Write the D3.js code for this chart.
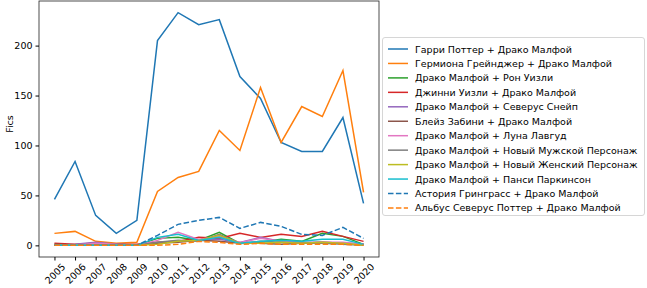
<!DOCTYPE html>
<html>
<head>
<meta charset="utf-8">
<script src="https://cdn.jsdelivr.net/npm/d3@7"></script>
<style>
body { margin: 0; background: #fff; }
text { font-family: "DejaVu Sans", sans-serif; fill: #000; }
</style>
</head>
<body>
<div id="chart"></div>
<script>
// years on the x axis
var years = [2005, 2006, 2007, 2008, 2009, 2010, 2011, 2012, 2013, 2014, 2015, 2016, 2017, 2018, 2019, 2020];

// pairing names (legend order)
var pairs = [
	"Гарри Поттер + Драко Малфой",
	"Гермиона Грейнджер + Драко Малфой",
	"Драко Малфой + Рон Уизли",
	"Джинни Уизли + Драко Малфой",
	"Драко Малфой + Северус Снейп",
	"Блейз Забини + Драко Малфой",
	"Драко Малфой + Луна Лавгуд",
	"Драко Малфой + Новый Мужской Персонаж",
	"Драко Малфой + Новый Женский Персонаж",
	"Драко Малфой + Панси Паркинсон",
	"Астория Гринграсс + Драко Малфой",
	"Альбус Северус Поттер + Драко Малфой"
];

// fics per year, one array per pairing
var harry    = [46, 84, 30, 12, 25, 205, 233, 221, 226, 169, 147, 103, 94, 94, 128, 42];
var hermione = [12, 14, 4, 2, 3, 54, 68, 74, 115, 95, 158, 103, 139, 129, 175, 53];
var ron      = [0, 0, 1, 1, 0, 7, 8, 5, 13, 2, 3, 6, 4, 12, 9, 1];
var ginny    = [2, 1, 2, 1, 1, 3, 4, 8, 7, 12, 8, 11, 9, 14, 9, 4];
var snape    = [0, 1, 3, 1, 0, 2, 4, 5, 6, 3, 8, 4, 3, 3, 2, 1];
var blaise   = [1, 0, 1, 1, 0, 2, 3, 5, 4, 2, 2, 1, 2, 3, 2, 1];
var luna     = [0, 0, 2, 1, 0, 5, 13, 6, 9, 3, 7, 4, 2, 3, 3, 1];
var maleOC   = [0, 0, 0, 0, 0, 3, 5, 4, 11, 2, 4, 3, 2, 2, 1, 0];
var femaleOC = [0, 0, 0, 0, 0, 1, 4, 5, 10, 2, 2, 3, 2, 3, 2, 0];
var pansy    = [0, 0, 0, 0, 0, 8, 11, 5, 8, 2, 4, 5, 4, 6, 6, 1];
var astoria  = [0, 0, 0, 0, 0, 10, 21, 25, 28, 17, 23, 19, 11, 10, 18, 7];
var albus    = [0, 0, 0, 0, 0, 0, 1, 4, 3, 1, 2, 1, 1, 1, 1, 0];

var yTicks = [0, 50, 100, 150, 200];

var series = [harry, hermione, ron, ginny, snape, blaise, luna, maleOC, femaleOC, pansy, astoria, albus];
var colors = ["#1f77b4", "#ff7f0e", "#2ca02c", "#d62728", "#9467bd", "#8c564b",
	"#e377c2", "#7f7f7f", "#bcbd22", "#17becf", "#1f77b4", "#ff7f0e"];
var dashed = [false, false, false, false, false, false, false, false, false, false, true, true];

var svg = d3.select("#chart").append("svg")
	.attr("width", 647)
	.attr("height", 288);

// plot box
var pLeft = 39, pRight = 379, pTop = 1, pBottom = 257;

var x = d3.scaleLinear().domain([2004.25, 2020.75]).range([pLeft, pRight]);
var y = d3.scaleLinear().domain([-11.65, 244.65]).range([pBottom, pTop]);

var line = d3.line()
	.x(function(d, i){ return x(years[i]); })
	.y(function(d){ return y(d); });

// draw lines
for (var s = 0; s < series.length; s++){
	svg.append("path")
		.attr("d", line(series[s]))
		.attr("fill", "none")
		.attr("stroke", colors[s])
		.attr("stroke-width", 1.5)
		.attr("stroke-dasharray", dashed[s] ? "5.5,2.4" : null);
}

// spines
svg.append("rect")
	.attr("x", pLeft).attr("y", pTop)
	.attr("width", pRight - pLeft).attr("height", pBottom - pTop)
	.attr("fill", "none")
	.attr("stroke", "#222")
	.attr("stroke-width", 0.8);

// y axis
var yAxis = svg.append("g")
	.attr("transform", "translate(" + pLeft + ",0)")
	.call(d3.axisLeft(y).tickValues(yTicks).tickSize(3.5).tickPadding(3));
yAxis.select(".domain").remove();
yAxis.selectAll("text").style("font-size", "9.5px").style("font-family", "DejaVu Sans");

// x axis with rotated labels
var xAxis = svg.append("g")
	.attr("transform", "translate(0," + pBottom + ")")
	.call(d3.axisBottom(x).tickValues(years).tickSize(3.5).tickFormat(d3.format("d")));
xAxis.select(".domain").remove();
xAxis.selectAll("text")
	.style("font-size", "9.5px")
	.style("font-family", "DejaVu Sans")
	.attr("text-anchor", "middle")
	.attr("dominant-baseline", "central")
	.attr("y", 0)
	.attr("dy", null)
	.attr("transform", "translate(0,16.5) rotate(-45)");

// y label
svg.append("text")
	.attr("transform", "translate(9,124) rotate(-90)")
	.attr("text-anchor", "middle")
	.attr("dominant-baseline", "central")
	.style("font-size", "9.5px")
	.text("Fics");

// legend
var lg = svg.append("g");
lg.append("rect")
	.attr("x", 382.5).attr("y", 37.5)
	.attr("width", 262).attr("height", 178)
	.attr("rx", 2.5)
	.attr("fill", "#fff")
	.attr("stroke", "#ccc")
	.attr("stroke-width", 0.8);

for (var i = 0; i < pairs.length; i++){
	var ly = 49 + i * 14.45;
	lg.append("line")
		.attr("x1", 388).attr("x2", 408)
		.attr("y1", ly).attr("y2", ly)
		.attr("stroke", colors[i])
		.attr("stroke-width", 1.5)
		.attr("stroke-dasharray", dashed[i] ? "5.5,2.4" : null);
	lg.append("text")
		.attr("x", 415).attr("y", ly)
		.attr("dominant-baseline", "central")
		.style("font-size", "9.5px")
		.text(pairs[i]);
}
</script>
</body>
</html>
